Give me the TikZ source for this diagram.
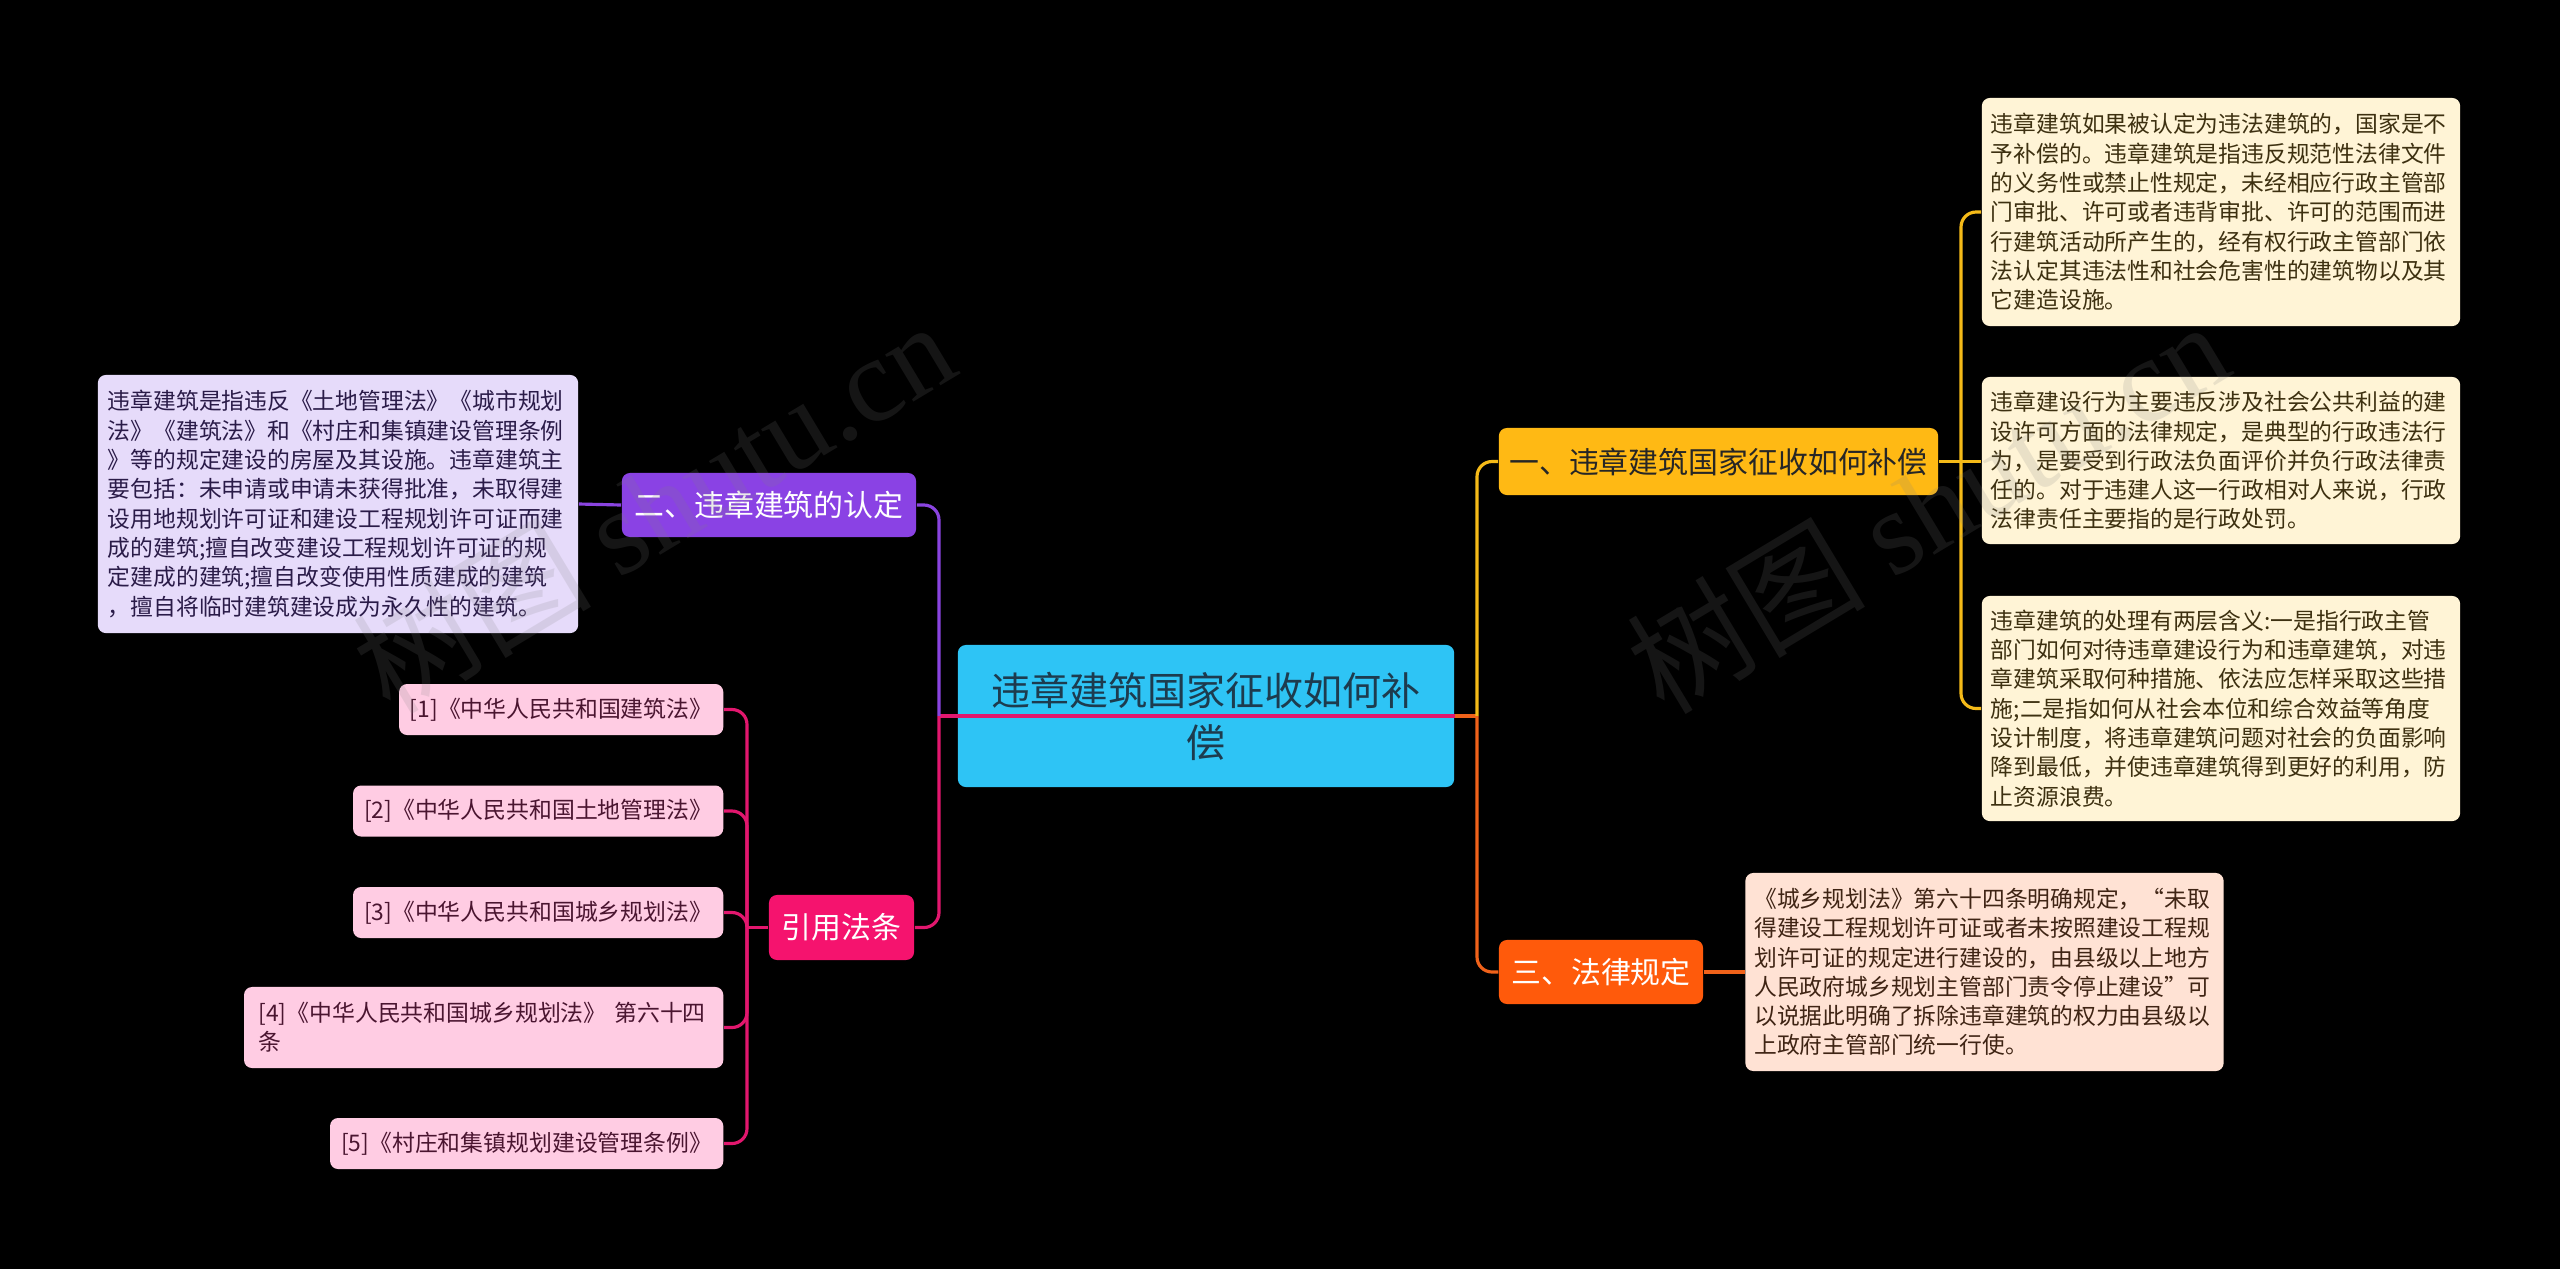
\documentclass[tikz,border=0pt]{standalone}
\usepackage{fontspec}
\setmainfont{Noto Sans CJK SC}
\newfontfamily\wmlatin{Liberation Serif}
\usetikzlibrary{positioning}

\definecolor{rootfill}{HTML}{2EC4F5}
\definecolor{roottext}{HTML}{1D3B4E}
\definecolor{onefill}{HTML}{FFB914}
\definecolor{threefill}{HTML}{FF5A0B}
\definecolor{twofill}{HTML}{8A42E4}
\definecolor{citefill}{HTML}{F5136E}
\definecolor{onecol}{HTML}{F5BA18}
\definecolor{threecol}{HTML}{F0621A}
\definecolor{twocol}{HTML}{8A44E0}
\definecolor{citecol}{HTML}{E2176E}
\definecolor{creamfill}{HTML}{FFF4D6}
\definecolor{creamtext}{HTML}{3D3010}
\definecolor{peachfill}{HTML}{FFE2D4}
\definecolor{peachtext}{HTML}{3F2414}
\definecolor{lilacfill}{HTML}{E6DBFA}
\definecolor{lilactext}{HTML}{2A1B48}
\definecolor{pinkfill}{HTML}{FFCCE3}
\definecolor{pinktext}{HTML}{4A1530}

\tikzset{
  box/.style={rounded corners=0.08cm, inner sep=0pt},
  rootbox/.style={box, fill=rootfill, text=roottext, minimum width=4.96cm,
    minimum height=1.42cm, text width=4.6cm, align=center,
    font=\fontsize{11.1pt}{14.8pt}\selectfont},
  topicbox/.style={box, minimum height=0.65cm, font=\fontsize{8.5pt}{10pt}\selectfont},
  leafbox/.style={box, minimum width=4.78cm, text width=4.6cm, align=left,
    font=\fontsize{6.48pt}{8.33pt}\selectfont},
  refbox/.style={box, fill=pinkfill, text=pinktext, minimum height=0.51cm,
    align=center, anchor=east, font=\fontsize{6.5pt}{8.33pt}\selectfont},
  link/.style={line width=0.9pt, rounded corners=0.15cm},
  wmark/.style={text=white!50!black, opacity=0.17, font=\fontsize{34pt}{34pt}\selectfont},
}

\begin{document}
\begin{tikzpicture}[x=0.01cm, y=-0.01cm]
    % Page
    \fill[black] (0,0) rectangle (2560,1269);
    \useasboundingbox (0,0) rectangle (2560,1269);

    % Root
    \node[rootbox] (root) at (1206,716) {违章建筑国家征收如何补\\偿};

    % Topics
    \node[topicbox, fill=onefill, text=black!85, minimum width=4.39cm, minimum height=0.67cm] (one) at (1718.5,461.5) {一、违章建筑国家征收如何补偿};
    \node[topicbox, fill=threefill, text=white, minimum width=2.04cm, minimum height=0.64cm] (three) at (1601,972) {三、法律规定};
    \node[topicbox, fill=twofill, text=white, minimum width=2.94cm, minimum height=0.64cm] (two) at (769,505) {二、违章建筑的认定};
    \node[topicbox, fill=citefill, text=white, minimum width=1.45cm] (cite) at (841.5,927.5) {引用法条};

    % Leaves of one
    \node[leafbox, fill=creamfill, text=creamtext, minimum height=2.28cm] (leafA) at (2221,212) {违章建筑如果被认定为违法建筑的，国家是不\\予补偿的。违章建筑是指违反规范性法律文件\\的义务性或禁止性规定，未经相应行政主管部\\门审批、许可或者违背审批、许可的范围而进\\行建筑活动所产生的，经有权行政主管部门依\\法认定其违法性和社会危害性的建筑物以及其\\它建造设施。};
    \node[leafbox, fill=creamfill, text=creamtext, minimum height=1.67cm] (leafB) at (2221,460.5) {违章建设行为主要违反涉及社会公共利益的建\\设许可方面的法律规定，是典型的行政违法行\\为，是要受到行政法负面评价并负行政法律责\\任的。对于违建人这一行政相对人来说，行政\\法律责任主要指的是行政处罚。};
    \node[leafbox, fill=creamfill, text=creamtext, minimum height=2.25cm] (leafC) at (2221,708.5) {违章建筑的处理有两层含义:一是指行政主管\\部门如何对待违章建设行为和违章建筑，对违\\章建筑采取何种措施、依法应怎样采取这些措\\施;二是指如何从社会本位和综合效益等角度\\设计制度，将违章建筑问题对社会的负面影响\\降到最低，并使违章建筑得到更好的利用，防\\止资源浪费。};

    % Leaf of three
    \node[leafbox, fill=peachfill, text=peachtext, minimum height=1.98cm] (lawleaf) at (1984.5,972) {《城乡规划法》第六十四条明确规定，“未取\\得建设工程规划许可证或者未按照建设工程规\\划许可证的规定进行建设的，由县级以上地方\\人民政府城乡规划主管部门责令停止建设”可\\以说据此明确了拆除违章建筑的权力由县级以\\上政府主管部门统一行使。};

    % Leaf of two
    \node[leafbox, fill=lilacfill, text=lilactext, minimum width=4.8cm, minimum height=2.58cm] (defleaf) at (338,504) {违章建筑是指违反《土地管理法》《城市规划\\法》《建筑法》和《村庄和集镇建设管理条例\\》等的规定建设的房屋及其设施。违章建筑主\\要包括：未申请或申请未获得批准，未取得建\\设用地规划许可证和建设工程规划许可证而建\\成的建筑;擅自改变建设工程规划许可证的规\\定建成的建筑;擅自改变使用性质建成的建筑\\，擅自将临时建筑建设成为永久性的建筑。};

    % References
    \node[refbox, minimum width=3.24cm] (r1) at (724,709.5) {[1]《中华人民共和国建筑法》};
    \node[refbox, minimum width=3.70cm] (r2) at (724,811) {[2]《中华人民共和国土地管理法》};
    \node[refbox, minimum width=3.70cm] (r3) at (724,912.5) {[3]《中华人民共和国城乡规划法》};
    \node[refbox, minimum width=4.79cm, minimum height=0.81cm, text width=4.5cm, align=left] (r4) at (724,1027.5) {[4]《中华人民共和国城乡规划法》 第六十四\\条};
    \node[refbox, minimum width=3.93cm] (r5) at (724,1143.5) {[5]《村庄和集镇规划建设管理条例》};

    % Connectors
    \coordinate (lknot) at (939,716);
    \coordinate (rknot) at (1477,716);
    \coordinate (yknot) at (1961,461.5);
    \coordinate (citeknot) at (747,927.5);

    \draw[link, citecol] (lknot) -- (root.east);
    \draw[link, threecol] (root.east) -- (rknot);
    \draw[link, twocol] (two.east) -| (lknot);
    \draw[link, citecol] (cite.east) -| (lknot);
    \draw[link, onecol] (rknot) |- (one.west);
    \draw[link, threecol] (rknot) |- (three.west);
    \draw[link, onecol] (one.east) -- (one.east -| leafB.west);
    \draw[link, onecol] (yknot) |- (leafA.west);
    \draw[link, onecol] (yknot) |- (leafC.west);
    \draw[link, threecol] (three.east) -- (lawleaf.west);
    \draw[link, twocol] (two.west) -- (defleaf.east);
    \foreach \r in {r1,r2,r3,r4,r5}
        \draw[link, citecol] (\r.east) -| (citeknot);
    \draw[link, citecol] (citeknot) -- (cite.west);

    % Watermarks
    \node[wmark, rotate=31] (wmleft) at (653,506) {树图 {\wmlatin shutu.cn}};
    \node[wmark, rotate=31] (wmright) at (1927,506) {树图 {\wmlatin shutu.cn}};
\end{tikzpicture}
\end{document}
